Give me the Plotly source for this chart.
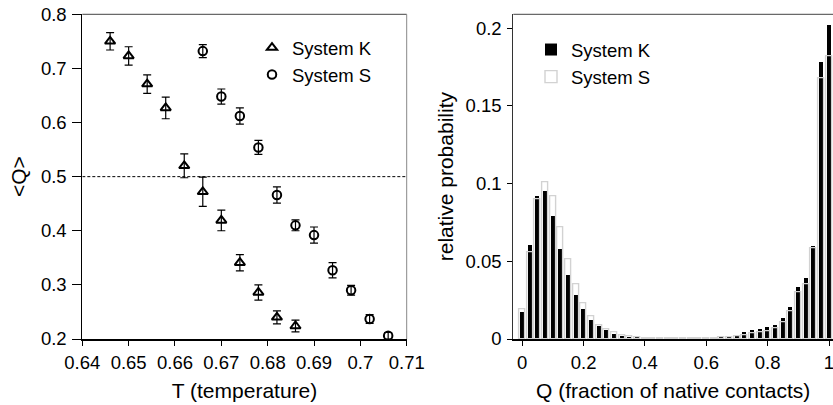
import plotly.graph_objects as go

# ---------------- data: left panel ----------------
T_K = [0.646, 0.650, 0.654, 0.658, 0.662, 0.666, 0.670, 0.674, 0.678, 0.682, 0.686]
Q_K = [0.750, 0.723, 0.671, 0.627, 0.520, 0.472, 0.419, 0.341, 0.286, 0.240, 0.224]
err_K = [0.016, 0.017, 0.017, 0.020, 0.022, 0.027, 0.019, 0.015, 0.014, 0.012, 0.011]

T_S = [0.666, 0.670, 0.674, 0.678, 0.682, 0.686, 0.690, 0.694, 0.698, 0.702, 0.706]
Q_S = [0.732, 0.648, 0.612, 0.554, 0.466, 0.410, 0.392, 0.327, 0.290, 0.237, 0.206]
err_S = [0.012, 0.014, 0.015, 0.013, 0.015, 0.010, 0.015, 0.014, 0.009, 0.008, 0.006]

left_xticks = [0.64, 0.65, 0.66, 0.67, 0.68, 0.69, 0.70, 0.71]
left_xtext = ["0.64", "0.65", "0.66", "0.67", "0.68", "0.69", "0.7", "0.71"]
left_yticks = [0.2, 0.3, 0.4, 0.5, 0.6, 0.7, 0.8]
left_ytext = ["0.2", "0.3", "0.4", "0.5", "0.6", "0.7", "0.8"]

# ---------------- data: right panel ----------------
Q_bins = [0.000, 0.025, 0.050, 0.075, 0.100, 0.125, 0.150, 0.175, 0.200, 0.225,
          0.250, 0.275, 0.300, 0.325, 0.350, 0.375, 0.400, 0.425, 0.450, 0.475,
          0.500, 0.525, 0.550, 0.575, 0.600, 0.625, 0.650, 0.675, 0.700, 0.725,
          0.750, 0.775, 0.800, 0.825, 0.850, 0.875, 0.900, 0.925, 0.950, 0.975, 1.000]
P_K = [0.017, 0.060, 0.092, 0.095, 0.079, 0.058, 0.041, 0.028, 0.019, 0.012,
       0.0079, 0.0058, 0.0030, 0.0019, 0.0010, 0.0006, 0.0004, 0.0003, 0.0002, 0.0002,
       0.0002, 0.0002, 0.0002, 0.0002, 0.0003, 0.0004, 0.0006, 0.0010, 0.0018, 0.0040,
       0.0058, 0.0064, 0.0075, 0.0090, 0.0133, 0.0206, 0.0330, 0.0393, 0.0594, 0.178, 0.202]
P_S = [0.019, 0.056, 0.090, 0.101, 0.092, 0.072, 0.051, 0.035, 0.023, 0.0143,
       0.0090, 0.0064, 0.0041, 0.0026, 0.0015, 0.0010, 0.0007, 0.0005, 0.0004, 0.0003,
       0.0003, 0.0003, 0.0003, 0.0003, 0.0004, 0.0006, 0.0009, 0.0013, 0.0018, 0.0022,
       0.0036, 0.0040, 0.0051, 0.0069, 0.0105, 0.0176, 0.0302, 0.0353, 0.0585, 0.168, 0.182]

right_xticks = [0, 0.2, 0.4, 0.6, 0.8, 1.0]
right_xtext = ["0", "0.2", "0.4", "0.6", "0.8", "1"]
right_yticks = [0, 0.05, 0.1, 0.15, 0.2]
right_ytext = ["0", "0.05", "0.1", "0.15", "0.2"]

FONT = "Liberation Sans, Arial, sans-serif"
TICK_FS = 18.5
TITLE_FS = 21
LEG_FS = 18.5

fig = go.Figure()

fig.add_trace(go.Scatter(
    x=T_K, y=Q_K, mode="markers", name="System K",
    marker=dict(symbol="triangle-up-open", size=9, color="black", line=dict(width=2, color="black")),
    error_y=dict(type="data", array=err_K, color="black", thickness=1.2, width=4),
    xaxis="x", yaxis="y", legend="legend"))
fig.add_trace(go.Scatter(
    x=T_S, y=Q_S, mode="markers", name="System S",
    marker=dict(symbol="circle-open", size=8.5, color="black", line=dict(width=2, color="black")),
    error_y=dict(type="data", array=err_S, color="black", thickness=1.2, width=4),
    xaxis="x", yaxis="y", legend="legend"))

fig.add_trace(go.Bar(
    x=Q_bins, y=P_K, name="System K", width=0.013,
    marker=dict(color="black", line=dict(width=0)),
    xaxis="x2", yaxis="y2", legend="legend2"))
fig.add_trace(go.Bar(
    x=Q_bins, y=P_S, name="System S", width=0.0195,
    marker=dict(color="rgba(0,0,0,0)", line=dict(width=1.4, color="#d2d2d2")),
    xaxis="x2", yaxis="y2", legend="legend2"))

ydom = [1 - 339 / 405, 1 - 14.3 / 405]

axis_common = dict(showgrid=False, zeroline=False, showline=True, linecolor="black",
                   ticks="outside", tickcolor="black", tickwidth=1, automargin=False,
                   ticklabeloverflow="allow",
                   tickfont=dict(family=FONT, size=TICK_FS, color="black"))

fig.update_layout(
    width=833, height=405,
    margin=dict(l=0, r=0, t=0, b=0),
    paper_bgcolor="white", plot_bgcolor="white",
    barmode="overlay", bargap=0,
    font=dict(family=FONT, color="black"),
    xaxis=dict(axis_common, domain=[82.3 / 833, 406.7 / 833], range=[0.64, 0.71],
               tickvals=left_xticks, ticktext=left_xtext, ticklen=5, linewidth=2,
               anchor="y", ticklabelstandoff=1,
               title=dict(text="T (temperature)", font=dict(family=FONT, size=TITLE_FS, color="black"), standoff=11)),
    yaxis=dict(axis_common, domain=ydom, range=[0.2, 0.8],
               tickvals=left_yticks, ticktext=left_ytext, ticklen=9, linewidth=1,
               anchor="x", ticklabelstandoff=2,
               title=dict(text="<Q>", font=dict(family=FONT, size=TITLE_FS, color="black"), standoff=8)),
    xaxis2=dict(axis_common, domain=[513.3 / 833, 1.0], range=[-0.029, 1.013],
                tickvals=right_xticks, ticktext=right_xtext, ticklen=5, linewidth=2,
                anchor="y2", ticklabelstandoff=1,
                title=dict(text="Q (fraction of native contacts)", font=dict(family=FONT, size=TITLE_FS, color="black"), standoff=11)),
    yaxis2=dict(axis_common, domain=ydom, range=[0, 0.209],
                tickvals=right_yticks, ticktext=right_ytext, ticklen=5, linewidth=1,
                linecolor="#333", anchor="x2", ticklabelstandoff=2,
                title=dict(text="relative probability", font=dict(family=FONT, size=TITLE_FS, color="black"), standoff=6)),
    legend=dict(x=252 / 833, y=1 - 29 / 405, xanchor="left", yanchor="top",
                bgcolor="rgba(0,0,0,0)", borderwidth=0,
                font=dict(family=FONT, size=LEG_FS, color="black"),
                itemsizing="trace", tracegroupgap=0),
    legend2=dict(x=531 / 833, y=1 - 31 / 405, xanchor="left", yanchor="top",
                 bgcolor="rgba(0,0,0,0)", borderwidth=0,
                 font=dict(family=FONT, size=LEG_FS, color="black"),
                 tracegroupgap=0),
    shapes=[
        dict(type="line", xref="x", yref="y", x0=0.64, x1=0.71, y0=0.5, y1=0.5,
             line=dict(color="black", width=1, dash="3px,2px")),
        dict(type="line", xref="x domain", yref="y domain", x0=0, x1=1, y0=1, y1=1,
             line=dict(color="#444", width=1)),
        dict(type="line", xref="x domain", yref="y domain", x0=1, x1=1, y0=0, y1=1,
             line=dict(color="#888", width=1)),
        dict(type="line", xref="x2 domain", yref="y2 domain", x0=0, x1=1, y0=1, y1=1,
             line=dict(color="#444", width=1)),
    ],
)

fig.write_html("out.html")
